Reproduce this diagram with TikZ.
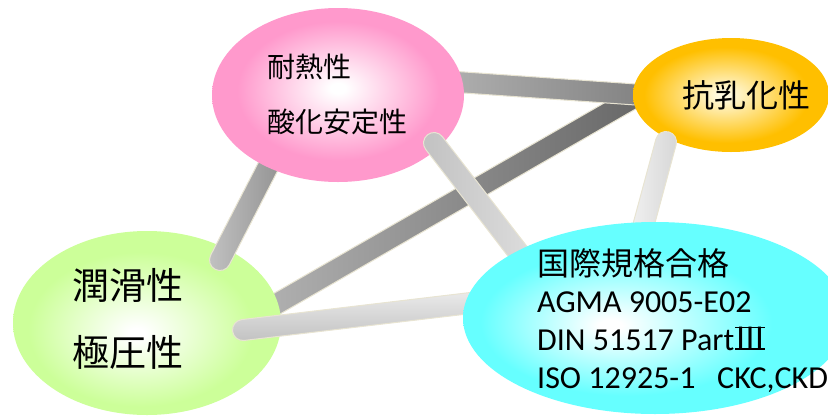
\documentclass[tikz,border=0pt]{standalone}
\usepackage{fontspec}
\setmainfont{Carlito}
\newfontfamily\jp{Noto Sans CJK JP}
\usetikzlibrary{shapes.geometric,calc}
\definecolor{barline}{RGB}{232,228,210}
\pgfdeclareradialshading{pinkball}{\pgfpoint{0bp}{2bp}}{rgb(0bp)=(1,1,1); rgb(1.5bp)=(1,1,1); rgb(20bp)=(1,0.6,0.8); rgb(50bp)=(1,0.6,0.8)}
\pgfdeclareradialshading{orangeball}{\pgfpoint{-2bp}{0bp}}{rgb(0bp)=(1,0.98,0.88); rgb(1.5bp)=(1,0.98,0.88); rgb(21bp)=(1,0.75,0); rgb(50bp)=(1,0.75,0)}
\pgfdeclareradialshading{greenball}{\pgfpoint{-2bp}{-3bp}}{rgb(0bp)=(1,1,1); rgb(1.5bp)=(1,1,1); rgb(21bp)=(0.8,1,0.6); rgb(50bp)=(0.8,1,0.6)}
\pgfdeclareradialshading{cyanball}{\pgfpoint{-6bp}{-2bp}}{rgb(0bp)=(1,1,1); rgb(1.5bp)=(1,1,1); rgb(19bp)=(0.4,1,1); rgb(50bp)=(0.4,1,1)}
\newcommand\capr{10.5pt}
\newcommand\capsule[3]{%
  \path[draw=barline, line width=1pt, #3] let \p1=($(#2)-(#1)$), \n1={atan2(\y1,\x1)} in
  ($(#1)+(\n1+90:\capr)$) -- ($(#2)+(\n1+90:\capr)$)
  arc[start angle=\n1+90, delta angle=-180, radius=\capr]
  -- ($(#1)+(\n1-90:\capr)$)
  arc[start angle=\n1-90, delta angle=-180, radius=\capr] -- cycle;}
\newsavebox\romanbox
\newcommand\romanthree{\sbox\romanbox{\jp Ⅲ}%
  \rlap{\hspace{1pt}\rule{\dimexpr\wd\romanbox-2pt\relax}{1.6pt}}%
  \rlap{\hspace{1pt}\rule[\dimexpr\ht\romanbox-1.6pt\relax]{\dimexpr\wd\romanbox-2pt\relax}{1.6pt}}%
  \usebox\romanbox}
\tikzset{
  ball/.style={ellipse, draw=none, inner sep=0pt},
  jtext/.style={inner sep=0pt, anchor=west, font=\jp},
  ltext/.style={inner sep=0pt, anchor=base west, font=\fontsize{32}{38}\selectfont}
}
\begin{document}
\begin{tikzpicture}[x=1pt,y=1pt]
\useasboundingbox (0,0) rectangle (828,-416);
% bar end points
\coordinate (go1) at (240,-325);
\coordinate (go2) at (665,-80);
\coordinate (po1) at (400,-78);
\coordinate (po2) at (700,-99);
\coordinate (pg1) at (220,-260);
\coordinate (pg2) at (292,-120);
\coordinate (pc1) at (434,-143);
\coordinate (pc2) at (555,-300);
\coordinate (gc1) at (243,-330);
\coordinate (gc2) at (530,-296);
\coordinate (oc1) at (666,-142);
\coordinate (oc2) at (630,-275);
% bars under everything
\capsule{go1}{go2}{left color=black!28, right color=black!62}
\capsule{po1}{po2}{left color=black!26, right color=black!55}
% green and orange balls
\node[ball, shading=greenball, minimum width=268pt, minimum height=184pt] (green) at (147,-323) {};
\node[ball, shading=orangeball, minimum width=196pt, minimum height=114pt] (orange) at (731,-95) {};
\capsule{pg1}{pg2}{left color=black!24, right color=black!48}
\node[ball, shading=pinkball, minimum width=252pt, minimum height=174pt] (pink) at (338,-95) {};
\capsule{pc1}{pc2}{left color=black!24, right color=black!10}
\capsule{gc1}{gc2}{top color=black!6, bottom color=black!24}
\capsule{oc1}{oc2}{left color=black!3, right color=black!16}
\node[ball, shading=cyanball, minimum width=384pt, minimum height=192pt] (cyan) at (655,-318) {};
% texts
\node[jtext, font=\jp\fontsize{28}{30}\selectfont] (t1) at (267,-67) {耐熱性};
\node[jtext, font=\jp\fontsize{28}{30}\selectfont] (t2) at (267,-122) {酸化安定性};
\node[jtext, font=\jp\fontsize{32}{34}\selectfont] (t3) at (682,-95) {抗乳化性};
\node[jtext, font=\jp\fontsize{37}{40}\selectfont] (t4) at (72,-285) {潤滑性};
\node[jtext, font=\jp\fontsize{37}{40}\selectfont] (t5) at (72,-352) {極圧性};
\node[jtext, font=\jp\fontsize{32}{34}\selectfont] (t6) at (537,-263) {国際規格合格};
\node[ltext] (t7) at (537,-312) {AGMA 9005-E02};
\node[ltext] (t8) at (537,-350) {DIN 51517 Part\romanthree};
\node[ltext] (t9) at (537,-388) {ISO 12925-1\ \ \ CKC,CKD};
\end{tikzpicture}
\end{document}
